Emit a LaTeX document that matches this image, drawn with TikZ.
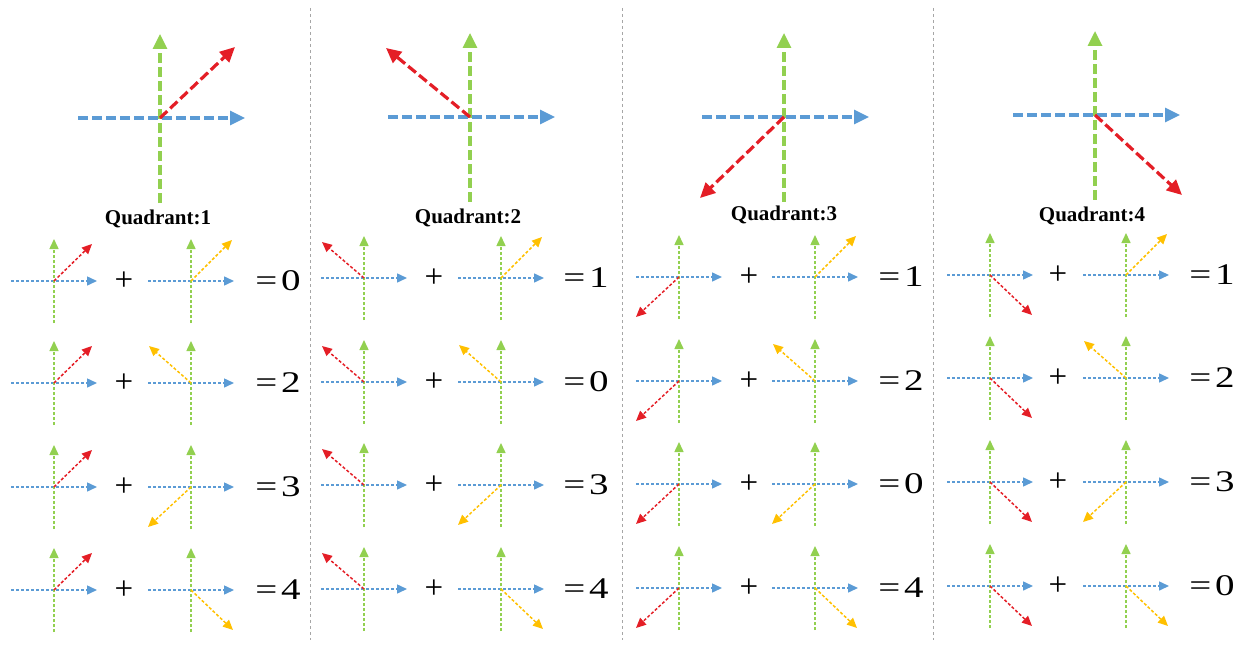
\documentclass[tikz,border=0pt]{standalone}
\usepackage{graphicx}
\usepackage{fontspec}
\setmainfont{Liberation Serif}
\usetikzlibrary{arrows.meta}
\definecolor{axblue}{HTML}{5B9BD5}
\definecolor{axgreen}{HTML}{92D050}
\definecolor{axred}{HTML}{E41E26}
\definecolor{axyellow}{HTML}{FFC000}
\definecolor{divgray}{HTML}{A6A6A6}
\tikzset{
  bigax/.style={line width=3.2pt, dash pattern=on 10pt off 4pt, -{Triangle[length=15pt,width=14pt]}},
  smallax/.style={line width=1.5pt, dash pattern=on 3pt off 2pt, -{Triangle[length=10pt,width=9pt]}},
  divider/.style={divgray, line width=1pt, dash pattern=on 3pt off 3pt},
  qlabel/.style={font=\bfseries\fontsize{21}{21}\selectfont, anchor=base, inner sep=0pt},
  eqtext/.style={font=\fontsize{30}{30}\selectfont, inner sep=0pt, anchor=center},
  plustext/.style={font=\fontsize{33}{33}\selectfont, inner sep=0pt, anchor=center}
}
\newcommand\myaxes[5]{%
  \draw[smallax,axblue] (#1-43,#2) -- (#1+43,#2);
  \draw[smallax,axgreen] (#1,#2+42) -- (#1,#2-42);
  \draw[smallax,#3] (#1,#2) -- ++(#4,#5);
}
\begin{document}
\begin{tikzpicture}[x=1pt,y=-1pt]
\useasboundingbox (0,0) rectangle (1244,647);
% dividers
\coordinate (d1a) at (310,8); \coordinate (d1b) at (310,640);
\coordinate (d2a) at (622,8); \coordinate (d2b) at (622,640);
\coordinate (d3a) at (933,8); \coordinate (d3b) at (933,640);
\draw[divider] (d1a) -- (d1b);
\draw[divider] (d2a) -- (d2b);
\draw[divider] (d3a) -- (d3b);
% big axes
\foreach \cx/\cy/\rdx/\rdy/\lx/\ly/\n in {160/118/75/-71/158/224/1, 470/117/-84/-69/468/223/2, 784/117/-84/81/784/220/3, 1095/115/87/80/1092/221/4}{
  \draw[bigax,axblue] (\cx-82,\cy) -- (\cx+85,\cy);
  \draw[bigax,axgreen] (\cx,\cy+85) -- (\cx,\cy-84);
  \draw[bigax,axred] (\cx,\cy) -- ++(\rdx,\rdy);
  \node[qlabel] (q\n) at (\lx,\ly) {Quadrant:\n};
}
% small rows
\foreach \p/\ax/\bx/\plx/\eqx/\rdx/\rdy/\ya/\yb/\yc/\yd/\va/\vb/\vc/\vd in {
  1/54/191/124/278/38/-37/281/383/487/590/0/2/3/4,
  2/364/501/434/586/-42/-36/278/382/485/589/1/0/3/4,
  3/679/815/749/901/-43/40/277/381/484/588/1/2/0/4,
  4/990/1126/1058/1212/42/40/275/378/482/586/1/2/3/0}{
  \foreach \y/\v/\ydx/\ydy/\r in {\ya/\va/41/-41/1, \yb/\vb/-42/-37/2, \yc/\vc/-43/40/3, \yd/\vd/42/40/4}{
    \myaxes{\ax}{\y}{axred}{\rdx}{\rdy}
    \node[plustext] (plus\p\r) at (\plx,\y) {+};
    \myaxes{\bx}{\y}{axyellow}{\ydx}{\ydy}
    \node[eqtext] (eq\p\r) at (\eqx,\y) {\scalebox{1.3}[1]{=\kern3pt\v}};
  }
}
\end{tikzpicture}
\end{document}
